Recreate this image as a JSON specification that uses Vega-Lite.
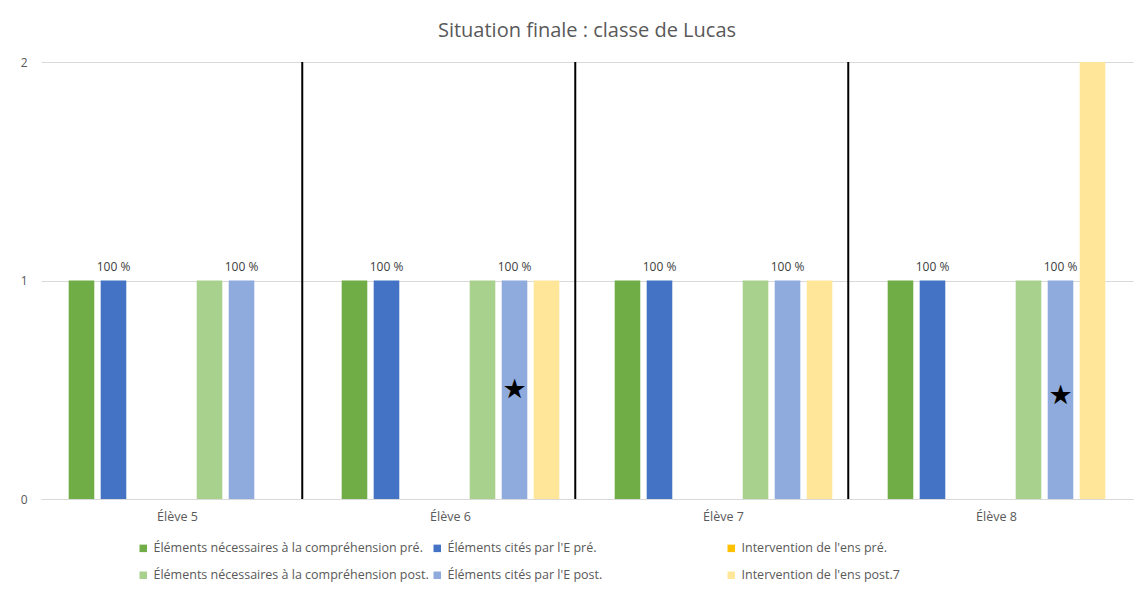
{
  "$schema": "https://vega.github.io/schema/vega-lite/v6.json",
  "width": 1092,
  "height": 437,
  "autosize": {"type": "none"},
  "padding": {"left": 41, "top": 62, "right": 6, "bottom": 95},
  "background": "white",
  "title": {"text": "Situation finale : classe de Lucas", "fontSize": 20, "font": "Open Sans", "fontWeight": "normal", "color": "#595959", "offset": 15},
  "config": {"view": {"stroke": null}, "font": "Open Sans"},
  "datasets": {
    "barres": [
      {"eleve": "Élève 5", "serie": "Éléments nécessaires à la compréhension pré.", "valeur": 1},
      {"eleve": "Élève 5", "serie": "Éléments cités par l'E pré.", "valeur": 1},
      {"eleve": "Élève 5", "serie": "Intervention de l'ens pré.", "valeur": 0},
      {"eleve": "Élève 5", "serie": "Éléments nécessaires à la compréhension post.", "valeur": 1},
      {"eleve": "Élève 5", "serie": "Éléments cités par l'E post.", "valeur": 1},
      {"eleve": "Élève 5", "serie": "Intervention de l'ens post.7", "valeur": 0},
      {"eleve": "Élève 6", "serie": "Éléments nécessaires à la compréhension pré.", "valeur": 1},
      {"eleve": "Élève 6", "serie": "Éléments cités par l'E pré.", "valeur": 1},
      {"eleve": "Élève 6", "serie": "Intervention de l'ens pré.", "valeur": 0},
      {"eleve": "Élève 6", "serie": "Éléments nécessaires à la compréhension post.", "valeur": 1},
      {"eleve": "Élève 6", "serie": "Éléments cités par l'E post.", "valeur": 1},
      {"eleve": "Élève 6", "serie": "Intervention de l'ens post.7", "valeur": 1},
      {"eleve": "Élève 7", "serie": "Éléments nécessaires à la compréhension pré.", "valeur": 1},
      {"eleve": "Élève 7", "serie": "Éléments cités par l'E pré.", "valeur": 1},
      {"eleve": "Élève 7", "serie": "Intervention de l'ens pré.", "valeur": 0},
      {"eleve": "Élève 7", "serie": "Éléments nécessaires à la compréhension post.", "valeur": 1},
      {"eleve": "Élève 7", "serie": "Éléments cités par l'E post.", "valeur": 1},
      {"eleve": "Élève 7", "serie": "Intervention de l'ens post.7", "valeur": 1},
      {"eleve": "Élève 8", "serie": "Éléments nécessaires à la compréhension pré.", "valeur": 1},
      {"eleve": "Élève 8", "serie": "Éléments cités par l'E pré.", "valeur": 1},
      {"eleve": "Élève 8", "serie": "Intervention de l'ens pré.", "valeur": 0},
      {"eleve": "Élève 8", "serie": "Éléments nécessaires à la compréhension post.", "valeur": 1},
      {"eleve": "Élève 8", "serie": "Éléments cités par l'E post.", "valeur": 1},
      {"eleve": "Élève 8", "serie": "Intervention de l'ens post.7", "valeur": 2}
    ],
    "etiquettes": [
      {"eleve": "Élève 5", "serie": "Éléments cités par l'E pré.", "valeur": 1, "texte": "100 %"},
      {"eleve": "Élève 5", "serie": "Éléments cités par l'E post.", "valeur": 1, "texte": "100 %"},
      {"eleve": "Élève 6", "serie": "Éléments cités par l'E pré.", "valeur": 1, "texte": "100 %"},
      {"eleve": "Élève 6", "serie": "Éléments cités par l'E post.", "valeur": 1, "texte": "100 %"},
      {"eleve": "Élève 7", "serie": "Éléments cités par l'E pré.", "valeur": 1, "texte": "100 %"},
      {"eleve": "Élève 7", "serie": "Éléments cités par l'E post.", "valeur": 1, "texte": "100 %"},
      {"eleve": "Élève 8", "serie": "Éléments cités par l'E pré.", "valeur": 1, "texte": "100 %"},
      {"eleve": "Élève 8", "serie": "Éléments cités par l'E post.", "valeur": 1, "texte": "100 %"}
    ],
    "etoiles": [
      {"eleve": "Élève 6", "serie": "Éléments cités par l'E post.", "valeur": 0.5, "symbole": "★"},
      {"eleve": "Élève 8", "serie": "Éléments cités par l'E post.", "valeur": 0.47, "symbole": "★"}
    ],
    "separateurs": [
      {"eleve": "Élève 5", "bas": 0, "haut": 2},
      {"eleve": "Élève 6", "bas": 0, "haut": 2},
      {"eleve": "Élève 7", "bas": 0, "haut": 2}
    ]
  },
  "encoding": {
    "x": {"field": "eleve", "type": "nominal", "sort": null,
      "scale": {"domain": ["Élève 5", "Élève 6", "Élève 7", "Élève 8"], "paddingInner": 0, "paddingOuter": 0},
      "axis": {"title": null, "labelAngle": 0, "domainColor": "#D9D9D9", "ticks": false, "labelColor": "#595959", "labelFontSize": 12.5, "labelPadding": 11}},
    "y": {"field": "valeur", "type": "quantitative",
      "scale": {"domain": [0, 2], "nice": false},
      "axis": {"title": null, "values": [0, 1, 2], "labelExpr": "'' + round(datum.value)", "labelOverlap": false, "domain": false, "ticks": false, "gridColor": "#D9D9D9", "labelColor": "#595959", "labelFontSize": 12, "labelPadding": 14}}
  },
  "layer": [
    {
      "data": {"name": "barres"},
      "mark": {"type": "bar"},
      "encoding": {
        "xOffset": {"field": "serie", "type": "nominal",
          "scale": {"domain": ["Éléments nécessaires à la compréhension pré.", "Éléments cités par l'E pré.", "Intervention de l'ens pré.", "(vide)", "Éléments nécessaires à la compréhension post.", "Éléments cités par l'E post.", "Intervention de l'ens post.7"], "paddingInner": 0.2, "paddingOuter": 0.865}},
        "color": {"field": "serie", "type": "nominal",
          "scale": {"domain": ["Éléments nécessaires à la compréhension pré.", "Éléments nécessaires à la compréhension post.", "Éléments cités par l'E pré.", "Éléments cités par l'E post.", "Intervention de l'ens pré.", "Intervention de l'ens post.7"],
            "range": ["#70AD47", "#A9D18E", "#4472C4", "#8FAADC", "#FFC000", "#FFE699"]},
          "legend": {"title": null, "orient": "none", "legendX": 96, "legendY": 480, "columns": 3, "gridAlign": "all", "columnPadding": 2, "rowPadding": 14, "symbolType": "square", "symbolSize": 56, "symbolStrokeWidth": 0, "labelFontSize": 12.5, "labelColor": "#595959", "labelLimit": 400, "labelOffset": 4}}
      }
    },
    {
      "data": {"name": "etiquettes"},
      "mark": {"type": "text", "dy": -14, "fontSize": 12, "color": "#404040"},
      "encoding": {
        "xOffset": {"field": "serie", "type": "nominal"},
        "text": {"field": "texte"}
      }
    },
    {
      "data": {"name": "etoiles"},
      "mark": {"type": "text", "fontSize": 27, "font": "DejaVu Sans", "color": "black", "baseline": "middle"},
      "encoding": {
        "xOffset": {"field": "serie", "type": "nominal"},
        "text": {"field": "symbole"}
      }
    },
    {
      "data": {"name": "separateurs"},
      "mark": {"type": "rule", "color": "black", "strokeWidth": 2},
      "encoding": {
        "x": {"field": "eleve", "type": "nominal", "bandPosition": 0.957},
        "y": {"field": "bas", "type": "quantitative"},
        "y2": {"field": "haut"}
      }
    }
  ]
}
